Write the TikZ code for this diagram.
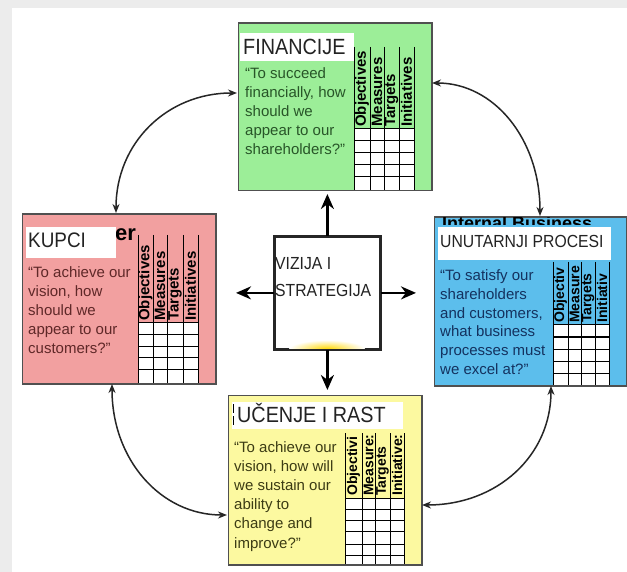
\documentclass[tikz,border=0pt]{standalone}
\usepackage{fontspec}
\setmainfont{Liberation Sans}
\newfontfamily\lblfont{Liberation Sans}[FakeStretch=0.9]
\usetikzlibrary{arrows.meta,calc}
\definecolor{bggray}{RGB}{236,236,236}
\definecolor{fincol}{RGB}{156,238,152}
\definecolor{kupcol}{RGB}{242,160,160}
\definecolor{unucol}{RGB}{92,190,236}
\definecolor{ucecol}{RGB}{252,249,160}
\definecolor{boxline}{RGB}{80,80,80}
\definecolor{finq}{RGB}{40,85,40}
\definecolor{kupq}{RGB}{95,40,40}
\definecolor{unuq}{RGB}{20,50,95}
\definecolor{uceq}{RGB}{60,60,20}
\definecolor{titlecol}{RGB}{35,35,35}
\definecolor{glowyel}{RGB}{255,215,0}
\newcommand\bscgrid[7]{%
  \fill[white] (#1,#5) rectangle (#2,#6);
  \foreach \yy in {#5,#7} \draw[gridln] (#1,\yy) -- (#2,\yy);
  \foreach \xx in {#1,#3,#2} \draw[gridln] (\xx,#4) -- (\xx,#6);
}
\begin{document}
\begin{tikzpicture}[x=1pt,y=-1pt,
  bscbox/.style={draw=boxline,line width=1pt,anchor=north west,inner sep=0pt},
  gridln/.style={black,line width=1pt},
  hdr/.style={rotate=90,anchor=west,inner sep=0pt,text=black},
  hdrA/.style={font=\bfseries\fontsize{15}{15}\selectfont},
  hdrB/.style={font=\bfseries\fontsize{14}{14}\selectfont},
  quote/.style={anchor=north west,inner sep=0pt,align=left,font=\fontsize{15}{19.2}\selectfont},
  title/.style={anchor=base west,inner sep=0pt,text=titlecol},
  cyc/.style={{Stealth[length=9pt,width=7pt]}-{Stealth[length=9pt,width=7pt]},line width=1.5pt,black!85},
  bigarr/.style={-{Stealth[length=15pt,width=13pt]},line width=2.6pt,black}
]
\useasboundingbox (0,0) rectangle (627,572);
\fill[bggray] (0,0) rectangle (627,572);
\fill[white] (12,8) rectangle (627,572);

% boxes
\node[bscbox,fill=fincol,minimum width=193pt,minimum height=167pt] (fin) at (238,23) {};
\node[bscbox,fill=kupcol,minimum width=193pt,minimum height=169pt] (kup) at (22,214) {};
\node[bscbox,fill=unucol,minimum width=192pt,minimum height=168pt] (unu) at (434,217) {};
\node[bscbox,fill=ucecol,minimum width=193pt,minimum height=169pt] (uce) at (228,395) {};
\node[bscbox,fill=white,draw=black!85,line width=1.8pt,minimum width=105pt,minimum height=112pt] (viz) at (274,236) {};

% partly hidden background titles
\node[anchor=base west,inner sep=0pt,font=\bfseries\fontsize{22}{22}\selectfont] (kupbg) at (115,241) {er};
\begin{scope}
  \clip (434,217) rectangle (626,225);
  \node[anchor=base west,inner sep=0pt,font=\bfseries\fontsize{18}{18}\selectfont] (unubg) at (442,230) {Internal Business};
\end{scope}

% white labels
\fill[white] (240,33) rectangle (354,61);
\fill[white] (26,227) rectangle (116,258);
\fill[white] (438,227) rectangle (611,260);
\fill[white] (232,402) rectangle (403,429);

\node[title,font=\lblfont\fontsize{22}{22}\selectfont] (fint) at (243,55) {FINANCIJE};
\node[title,font=\lblfont\fontsize{21}{21}\selectfont] (kupt) at (28,248) {KUPCI};
\node[title,font=\lblfont\fontsize{17.5}{17.5}\selectfont] (unut) at (440,248) {UNUTARNJI PROCESI};
\node[title,font=\lblfont\fontsize{22}{22}\selectfont] (ucet) at (237,422) {UČENJE I RAST};
\draw[black,line width=0.8pt] (233,404) -- (233,413) (233,416) -- (233,425);

% grids
\bscgrid{354}{414}{370,384,399}{47}{129}{190}{141,153,165,177}
\bscgrid{138}{198}{153,167,183}{235}{323}{383}{335,346,357,369}
\bscgrid{553}{609}{568,581,595}{262}{325}{385}{337,349,361,373}
\bscgrid{345}{404}{362,375,390}{433}{498}{564}{509,520,531,544,555}

\foreach \xx/\t [count=\i] in {362/Objectives,377/Measures,391.5/Targets,406.5/Initiatives}
  \node[hdr,hdrA] (finh\i) at (\xx,127) {\t};
\foreach \xx/\t [count=\i] in {145.5/Objectives,160/Measures,175/Targets,190.5/Initiatives}
  \node[hdr,hdrA] (kuph\i) at (\xx,321) {\t};
\foreach \xx/\t [count=\i] in {560.5/Objectiv,574.5/Measure,588/Targets,602/Initiativ}
  \node[hdr,hdrB] (unuh\i) at (\xx,323) {\t};
\foreach \xx/\t [count=\i] in {353.5/Objectivi,368.5/Measure:,382.5/Targets,397/Initiative:}
  \node[hdr,hdrB] (uceh\i) at (\xx,496) {\t};

% quotes
\node[quote,text=finq] (finq) at (245,67) {“To succeed\\financially, how\\should we\\appear to our\\shareholders?”};
\node[quote,text=kupq] (kupq) at (28,266) {“To achieve our\\vision, how\\should we\\appear to our\\customers?”};
\node[quote,text=unuq,font=\fontsize{15}{18.8}\selectfont] (unuq) at (440,269.5) {“To satisfy our\\shareholders\\and customers,\\what business\\processes must\\we excel at?”};
\node[quote,text=uceq] (uceq) at (234,441) {“To achieve our\\vision, how will\\we sustain our\\ability to\\change and\\improve?”};

% box borders on top
\foreach \b in {fin,kup,unu,uce}
  \draw[boxline,line width=1pt] (\b.north west) rectangle (\b.south east);

% vision box glow and text
\begin{scope}
  \clip (viz.south west) rectangle (viz.north east);
  \shade[inner color=glowyel,outer color=white] (327,349) ellipse [x radius=38, y radius=9];
\end{scope}
\draw[black!85,line width=1.8pt] (viz.north west) rectangle (viz.south east);
\node[title,font=\lblfont\fontsize{17.5}{17.5}\selectfont] (vz1) at (275,270) {VIZIJA I};
\node[title,font=\lblfont\fontsize{17.5}{17.5}\selectfont] (vz2) at (275,297) {STRATEGIJA};

% straight arrows
\draw[bigarr,shorten >=3pt] (viz.north) -- (viz.north |- fin.south);
\draw[bigarr,shorten >=5pt] (viz.south) -- (viz.south |- uce.north);
\draw[bigarr,shorten >=20pt] (viz.west) -- (viz.west -| kup.east);
\draw[bigarr,shorten >=18pt] (viz.east) -- (viz.east -| unu.west);

% curved arrows
\coordinate (f1) at (237,93);
\coordinate (k1) at (116,213);
\coordinate (f2) at (432,83);
\coordinate (u2) at (540,216);
\coordinate (k3) at (112,384);
\coordinate (l3) at (227,515);
\coordinate (l4) at (422,505);
\coordinate (u4) at (551,386);
\draw[cyc] (k1) .. controls +(0,-70) and +(-70,0) .. (f1);
\draw[cyc] (f2) .. controls +(62,0) and +(0,-77) .. (u2);
\draw[cyc] (k3) .. controls +(0,76) and +(-66,0) .. (l3);
\draw[cyc] (l4) .. controls +(75,0) and +(0,70) .. (u4);
\end{tikzpicture}
\end{document}
